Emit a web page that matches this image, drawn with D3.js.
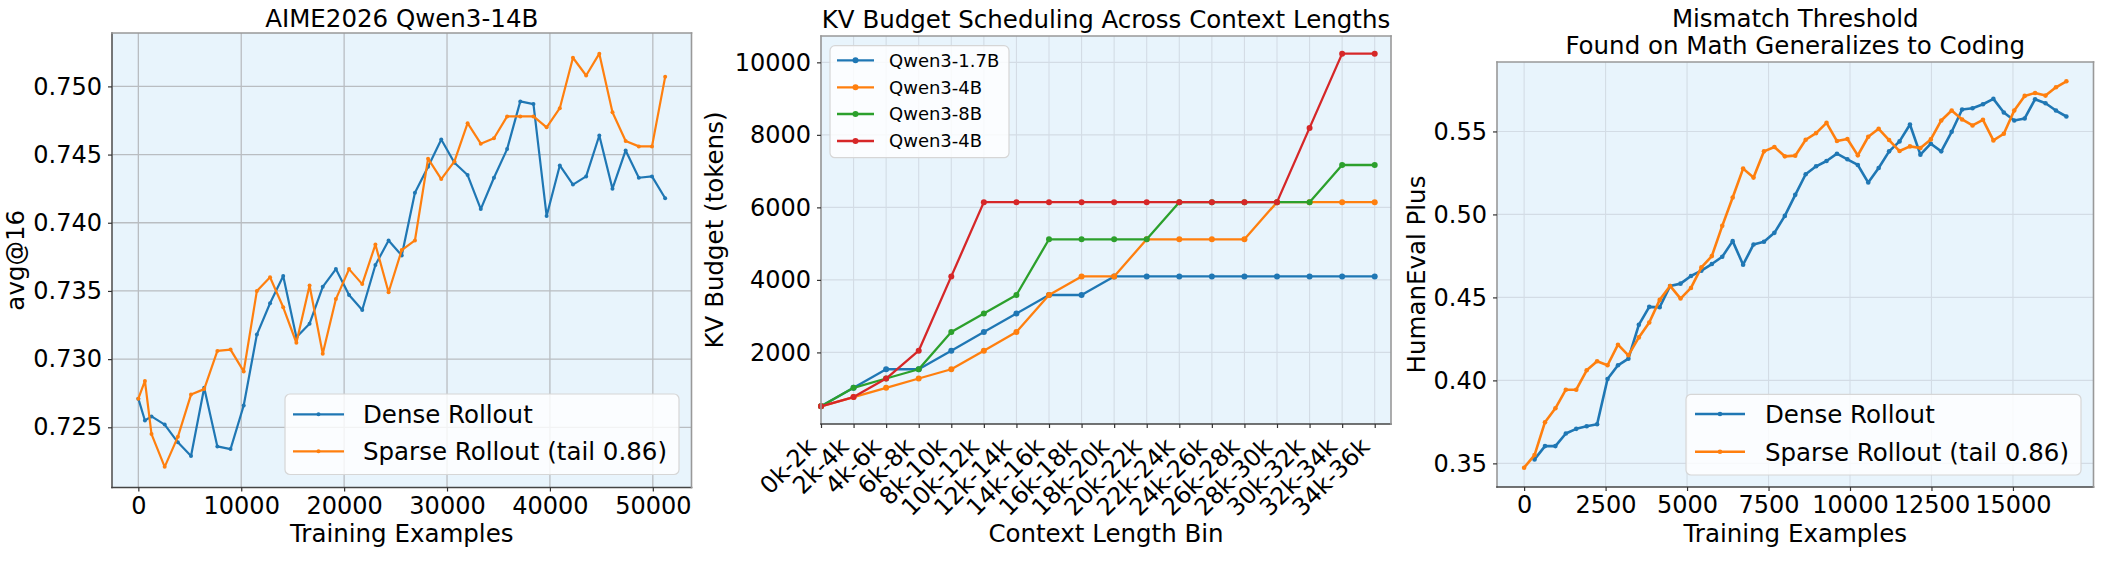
<!DOCTYPE html>
<html><head><meta charset="utf-8">
<script src="https://cdn.jsdelivr.net/npm/d3@7"></script>
<style>body{margin:0;background:#fff} svg{display:block} text{font-family:"DejaVu Sans",sans-serif}</style>
</head><body><svg id="c" width="2112" height="562"></svg>
<script>
// ---------------- Panel 1: AIME2026 Qwen3-14B ----------------
const aimeExamples = [0, 640, 1280, 2560, 3840, 5120, 6400, 7680, 8960, 10240, 11520, 12800, 14080, 15360, 16640, 17920, 19200, 20480, 21760, 23040, 24320, 25600, 26880, 28160, 29440, 30720, 32000, 33280, 34560, 35840, 37120, 38400, 39680, 40960, 42240, 43520, 44800, 46080, 47360, 48640, 49920, 51200];
const aimeDense = [0.7271, 0.7255, 0.7258, 0.7252, 0.7239, 0.7229, 0.7279, 0.7236, 0.7234, 0.7266, 0.7318, 0.7341, 0.7361, 0.7316, 0.7326, 0.7353, 0.7366, 0.7347, 0.7336, 0.7369, 0.7387, 0.7376, 0.7422, 0.7441, 0.7461, 0.7444, 0.7435, 0.7410, 0.7433, 0.7454, 0.7489, 0.7487, 0.7405, 0.7442, 0.7428, 0.7434, 0.7464, 0.7425, 0.7453, 0.7433, 0.7434, 0.7418];
const aimeSparse = [0.7271, 0.7284, 0.7245, 0.7221, 0.7243, 0.7274, 0.7278, 0.7306, 0.7307, 0.7291, 0.7350, 0.7360, 0.7338, 0.7312, 0.7354, 0.7304, 0.7344, 0.7366, 0.7355, 0.7384, 0.7349, 0.7380, 0.7387, 0.7447, 0.7432, 0.7445, 0.7473, 0.7458, 0.7462, 0.7478, 0.7478, 0.7478, 0.7470, 0.7484, 0.7521, 0.7508, 0.7524, 0.7481, 0.7460, 0.7456, 0.7456, 0.7507];
const aimeXTicks = [0, 10000, 20000, 30000, 40000, 50000];
const aimeYTicks = [0.725, 0.730, 0.735, 0.740, 0.745, 0.750];

// ---------------- Panel 2: KV budget ----------------
const ctxBins = ["0k-2k","2k-4k","4k-6k","6k-8k","8k-10k","10k-12k","12k-14k","14k-16k","16k-18k","18k-20k","20k-22k","22k-24k","24k-26k","26k-28k","28k-30k","30k-32k","32k-34k","34k-36k"];
const kvQwen17B = [512, 1024, 1536, 1536, 2048, 2560, 3072, 3584, 3584, 4096, 4096, 4096, 4096, 4096, 4096, 4096, 4096, 4096];
const kvQwen4B  = [512, 768, 1024, 1280, 1536, 2048, 2560, 3584, 4096, 4096, 5120, 5120, 5120, 5120, 6144, 6144, 6144, 6144];
const kvQwen8B  = [512, 1024, 1280, 1536, 2560, 3072, 3584, 5120, 5120, 5120, 5120, 6144, 6144, 6144, 6144, 6144, 7168, 7168];
const kvQwen4Bb = [512, 768, 1280, 2048, 4096, 6144, 6144, 6144, 6144, 6144, 6144, 6144, 6144, 6144, 6144, 8192, 10240, 10240];
const kvSeriesNames = ["Qwen3-1.7B", "Qwen3-4B", "Qwen3-8B", "Qwen3-4B"];
const kvYTicks = [2000, 4000, 6000, 8000, 10000];

// ---------------- Panel 3: HumanEval Plus ----------------
const heExamples = [0, 320, 640, 960, 1280, 1600, 1920, 2240, 2560, 2880, 3200, 3520, 3840, 4160, 4480, 4800, 5120, 5440, 5760, 6080, 6400, 6720, 7040, 7360, 7680, 8000, 8320, 8640, 8960, 9280, 9600, 9920, 10240, 10560, 10880, 11200, 11520, 11840, 12160, 12480, 12800, 13120, 13440, 13760, 14080, 14400, 14720, 15040, 15360, 15680, 16000, 16320, 16640];
const heDenseExamples = [320, 640, 960, 1280, 1600, 1920, 2240, 2560, 2880, 3200, 3520, 3840, 4160, 4480, 4800, 5120, 5440, 5760, 6080, 6400, 6720, 7040, 7360, 7680, 8000, 8320, 8640, 8960, 9280, 9600, 9920, 10240, 10560, 10880, 11200, 11520, 11840, 12160, 12480, 12800, 13120, 13440, 13760, 14080, 14400, 14720, 15040, 15360, 15680, 16000, 16320, 16640];
const heDense = [0.3524, 0.3604, 0.3604, 0.3680, 0.3708, 0.3724, 0.3736, 0.4008, 0.4091, 0.4131, 0.4335, 0.4443, 0.4441, 0.4569, 0.4583, 0.4629, 0.4661, 0.4701, 0.4745, 0.4839, 0.4697, 0.4819, 0.4835, 0.4889, 0.4991, 0.5118, 0.5242, 0.5290, 0.5322, 0.5366, 0.5332, 0.5298, 0.5192, 0.5280, 0.5380, 0.5440, 0.5542, 0.5360, 0.5426, 0.5380, 0.5498, 0.5632, 0.5640, 0.5664, 0.5696, 0.5614, 0.5566, 0.5578, 0.5694, 0.5670, 0.5626, 0.5590];
const heSparse = [0.3474, 0.3550, 0.3748, 0.3832, 0.3944, 0.3944, 0.4061, 0.4115, 0.4091, 0.4215, 0.4151, 0.4259, 0.4349, 0.4485, 0.4569, 0.4493, 0.4557, 0.4681, 0.4749, 0.4931, 0.5102, 0.5276, 0.5222, 0.5380, 0.5406, 0.5350, 0.5354, 0.5450, 0.5490, 0.5552, 0.5442, 0.5454, 0.5356, 0.5468, 0.5516, 0.5448, 0.5382, 0.5410, 0.5400, 0.5452, 0.5566, 0.5626, 0.5572, 0.5536, 0.5570, 0.5446, 0.5486, 0.5626, 0.5714, 0.5732, 0.5716, 0.5766, 0.5802];
const heXTicks = [0, 2500, 5000, 7500, 10000, 12500, 15000];
const heYTicks = [0.35, 0.40, 0.45, 0.50, 0.55];

const rolloutNames = ["Dense Rollout", "Sparse Rollout (tail 0.86)"];

// ---------------- drawing ----------------
const svg = d3.select("#c");
const FONT = "DejaVu Sans";
const BG = "#e8f4fc";
const COL = {blue: "#1f77b4", orange: "#ff7f0e", green: "#2ca02c", red: "#d62728"};
const padExt = (lo, hi) => { const r = hi - lo; return [lo - 0.05 * r, hi + 0.05 * r]; };

function panelBase(box, x, y, xTicks, yTicks, gridColor, gridW) {
  const g = svg.append("g");
  g.append("rect").attr("x", box.l).attr("y", box.t).attr("width", box.r - box.l).attr("height", box.b - box.t).attr("fill", BG);
  g.append("g").selectAll("line").data(xTicks).join("line")
    .attr("x1", d => x(d)).attr("x2", d => x(d)).attr("y1", box.t).attr("y2", box.b)
    .attr("stroke", gridColor).attr("stroke-width", gridW);
  g.append("g").selectAll("line").data(yTicks).join("line")
    .attr("y1", d => y(d)).attr("y2", d => y(d)).attr("x1", box.l).attr("x2", box.r)
    .attr("stroke", gridColor).attr("stroke-width", gridW);
  return g;
}

function series(g, xs, ys, x, y, color, lw, r) {
  const pts = xs.map((d, i) => [d, ys[i]]);
  g.append("path").datum(pts)
    .attr("d", d3.line().x(d => x(d[0])).y(d => y(d[1])))
    .attr("fill", "none").attr("stroke", color).attr("stroke-width", lw).attr("stroke-linejoin", "round");
  g.append("g").selectAll("circle").data(pts).join("circle")
    .attr("cx", d => x(d[0])).attr("cy", d => y(d[1])).attr("r", r).attr("fill", color);
}

function spines(g, box, cLeft, cBottom, cOther) {
  const s = [[box.l, box.t, box.l, box.b, cLeft], [box.l, box.b, box.r, box.b, cBottom], [box.l, box.t, box.r, box.t, cOther], [box.r, box.t, box.r, box.b, cOther]];
  g.append("g").selectAll("line").data(s).join("line")
    .attr("x1", d => d[0]).attr("y1", d => d[1]).attr("x2", d => d[2]).attr("y2", d => d[3])
    .attr("stroke", d => d[4]).attr("stroke-width", 1.6).attr("stroke-linecap", "square");
}

function axes(g, box, x, y, xTicks, yTicks, xFmt, yFmt, fs) {
  const ax = g.append("g").attr("transform", `translate(0,${box.b})`)
    .call(d3.axisBottom(x).tickValues(xTicks).tickFormat(xFmt).tickSize(4).tickPadding(5));
  ax.select(".domain").remove();
  ax.attr("font-size", fs).attr("font-family", FONT);
  ax.selectAll("line").attr("stroke", "#333").attr("stroke-width", 1.2);
  ax.selectAll("text").attr("fill", "#000");
  const ay = g.append("g").attr("transform", `translate(${box.l},0)`)
    .call(d3.axisLeft(y).tickValues(yTicks).tickFormat(yFmt).tickSize(4).tickPadding(6));
  ay.select(".domain").remove();
  ay.attr("font-size", fs).attr("font-family", FONT);
  ay.selectAll("line").attr("stroke", "#333").attr("stroke-width", 1.2);
  ay.selectAll("text").attr("fill", "#000");
  return ax;
}

function text(g, x, y, str, fs, anchor, rot) {
  const t = g.append("text").attr("font-size", fs).attr("font-family", FONT).attr("fill", "#000")
    .attr("text-anchor", anchor || "middle").text(str);
  if (rot) t.attr("transform", `translate(${x},${y}) rotate(${rot})`);
  else t.attr("x", x).attr("y", y);
  return t;
}

function legend(g, L) {
  g.append("rect").attr("x", L.x0).attr("y", L.y0).attr("width", L.x1 - L.x0).attr("height", L.y1 - L.y0)
    .attr("rx", 5).attr("fill", "#ffffff").attr("fill-opacity", 0.82).attr("stroke", "#d6d6d6").attr("stroke-width", 1.2);
  L.items.forEach((it, i) => {
    const cy = L.ys[i];
    g.append("line").attr("x1", L.lx0).attr("x2", L.lx1).attr("y1", cy).attr("y2", cy)
      .attr("stroke", it.color).attr("stroke-width", L.lw);
    g.append("circle").attr("cx", (L.lx0 + L.lx1) / 2).attr("cy", cy).attr("r", L.r).attr("fill", it.color);
    text(g, L.tx, cy + L.fs * 0.36, it.label, L.fs, "start");
  });
}

// ---- Panel 1 ----
{
  const box = {l: 112, r: 691.5, t: 33, b: 487.5};
  const all = aimeDense.concat(aimeSparse);
  const x = d3.scaleLinear().domain(padExt(d3.min(aimeExamples), d3.max(aimeExamples))).range([box.l, box.r]);
  const y = d3.scaleLinear().domain(padExt(d3.min(all), d3.max(all))).range([box.b, box.t]);
  const g = panelBase(box, x, y, aimeXTicks, aimeYTicks, "#b9bdc1", 1.3);
  series(g, aimeExamples, aimeDense, x, y, COL.blue, 2.2, 2.0);
  series(g, aimeExamples, aimeSparse, x, y, COL.orange, 2.2, 2.0);
  spines(g, box, "#555", "#444", "#999");
  axes(g, box, x, y, aimeXTicks, aimeYTicks, d3.format("d"), d3.format(".3f"), 24);
  text(g, (box.l + box.r) / 2, 27, "AIME2026 Qwen3-14B", 24.5);
  text(g, (box.l + box.r) / 2, 542, "Training Examples", 24.5);
  text(g, 24, (box.t + box.b) / 2, "avg@16", 24.5, "middle", -90);
  legend(g, {x0: 285, x1: 679, y0: 394, y1: 474.5, lx0: 293, lx1: 344, tx: 363, ys: [414.3, 451.3], fs: 24.5, lw: 2.2, r: 2.0,
    items: [{label: rolloutNames[0], color: COL.blue}, {label: rolloutNames[1], color: COL.orange}]});
}

// ---- Panel 2 ----
{
  const box = {l: 821, r: 1391, t: 36, b: 424};
  const idx = ctxBins.map((d, i) => i);
  const all = kvQwen17B.concat(kvQwen4B, kvQwen8B, kvQwen4Bb);
  const x = d3.scaleLinear().domain([0, ctxBins.length - 0.5]).range([box.l, box.r]);
  const y = d3.scaleLinear().domain(padExt(d3.min(all), d3.max(all))).range([box.b, box.t]);
  const g = panelBase(box, x, y, idx, kvYTicks, "#d3dce5", 1.1);
  const kvSeries = [kvQwen17B, kvQwen4B, kvQwen8B, kvQwen4Bb];
  const kvColors = [COL.blue, COL.orange, COL.green, COL.red];
  kvSeries.forEach((s, i) => series(g, idx, s, x, y, kvColors[i], 2.3, 3.0));
  spines(g, box, "#999", "#444", "#999");
  const ax = axes(g, box, x, y, idx, kvYTicks, i => ctxBins[i], d3.format("d"), 24);
  const fsR = 24, H = 1.164 * fsR;
  ax.selectAll("text").attr("y", null).attr("dy", null).attr("text-anchor", "end")
    .attr("transform", `translate(0,${8.5 + H / Math.SQRT2}) rotate(-45) translate(0,${-0.236 * fsR})`);
  text(g, (box.l + box.r) / 2, 28.3, "KV Budget Scheduling Across Context Lengths", 24.5);
  text(g, (box.l + box.r) / 2, 542, "Context Length Bin", 24.5);
  text(g, 723, (box.t + box.b) / 2, "KV Budget (tokens)", 24.5, "middle", -90);
  legend(g, {x0: 830, x1: 1009, y0: 45.7, y1: 157.7, lx0: 837, lx1: 874, tx: 889, ys: [60.3, 87.3, 114, 141], fs: 18, lw: 2.3, r: 3.0,
    items: kvSeriesNames.map((n, i) => ({label: n, color: kvColors[i]}))});
}

// ---- Panel 3 ----
{
  const box = {l: 1497, r: 2093.5, t: 62, b: 487};
  const all = heDense.concat(heSparse);
  const x = d3.scaleLinear().domain(padExt(d3.min(heExamples), d3.max(heExamples))).range([box.l, box.r]);
  const y = d3.scaleLinear().domain(padExt(d3.min(all), d3.max(all))).range([box.b, box.t]);
  const g = panelBase(box, x, y, heXTicks, heYTicks, "#d3dce5", 1.1);
  series(g, heDenseExamples, heDense, x, y, COL.blue, 2.6, 2.3);
  series(g, heExamples, heSparse, x, y, COL.orange, 2.6, 2.3);
  spines(g, box, "#999", "#444", "#999");
  axes(g, box, x, y, heXTicks, heYTicks, d3.format("d"), d3.format(".2f"), 24);
  text(g, (box.l + box.r) / 2, 26.7, "Mismatch Threshold", 24.5);
  text(g, (box.l + box.r) / 2, 54, "Found on Math Generalizes to Coding", 24.5);
  text(g, (box.l + box.r) / 2, 542, "Training Examples", 24.5);
  text(g, 1425, (box.t + box.b) / 2, "HumanEval Plus", 24.5, "middle", -90);
  legend(g, {x0: 1686, x1: 2081, y0: 394.3, y1: 475, lx0: 1695, lx1: 1745, tx: 1765, ys: [414, 451.7], fs: 24.5, lw: 2.6, r: 2.3,
    items: [{label: rolloutNames[0], color: COL.blue}, {label: rolloutNames[1], color: COL.orange}]});
}
</script></body></html>
